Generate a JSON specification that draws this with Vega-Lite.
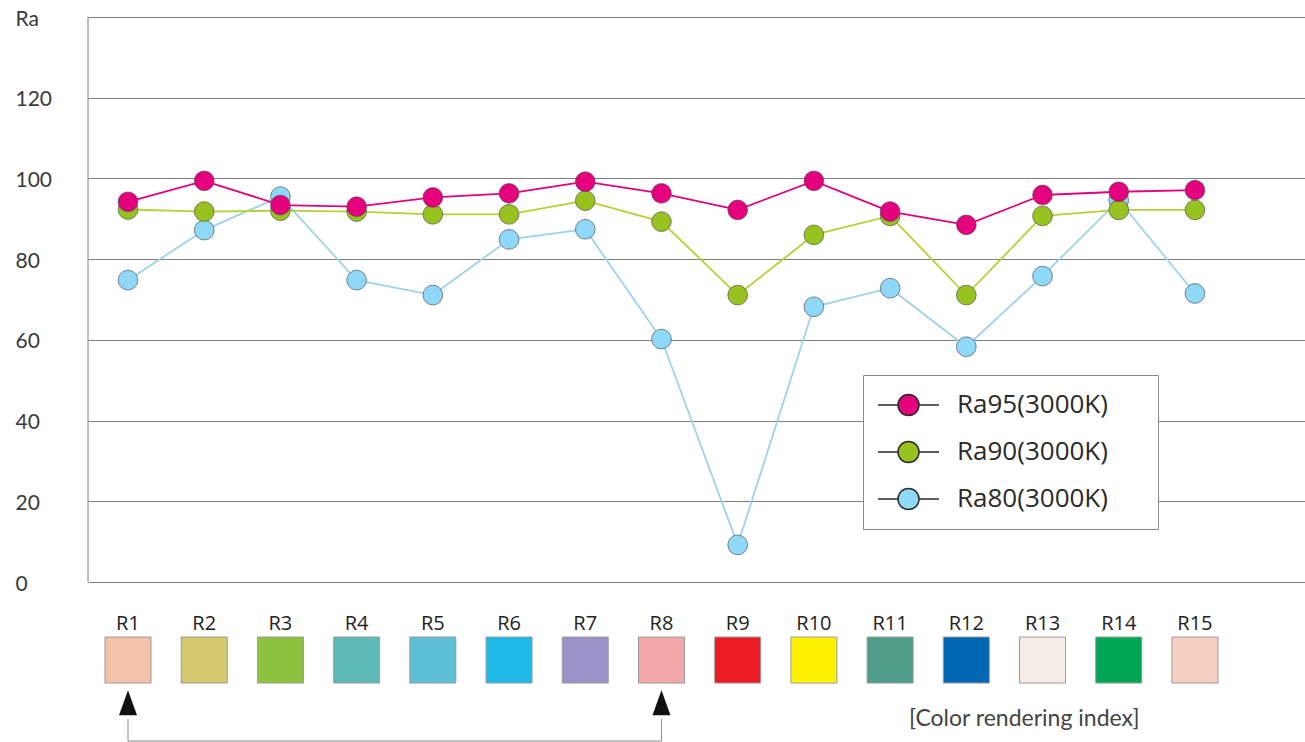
{
  "$schema": "https://vega.github.io/schema/vega-lite/v6.json",
  "width": 1217,
  "height": 725,
  "autosize": {"type": "none"},
  "padding": {"left": 88, "top": 17, "right": 0, "bottom": 0},
  "background": "white",
  "config": {"view": {"stroke": null}, "font": "Lato"},
  "datasets": {
    "ra": [
      {"i": 1, "series": "Ra80(3000K)", "value": 74.8},
      {"i": 2, "series": "Ra80(3000K)", "value": 87.2},
      {"i": 3, "series": "Ra80(3000K)", "value": 95.5},
      {"i": 4, "series": "Ra80(3000K)", "value": 74.8},
      {"i": 5, "series": "Ra80(3000K)", "value": 71.1},
      {"i": 6, "series": "Ra80(3000K)", "value": 84.9},
      {"i": 7, "series": "Ra80(3000K)", "value": 87.4},
      {"i": 8, "series": "Ra80(3000K)", "value": 60.2},
      {"i": 9, "series": "Ra80(3000K)", "value": 9.2},
      {"i": 10, "series": "Ra80(3000K)", "value": 68.2},
      {"i": 11, "series": "Ra80(3000K)", "value": 72.8},
      {"i": 12, "series": "Ra80(3000K)", "value": 58.3},
      {"i": 13, "series": "Ra80(3000K)", "value": 75.8},
      {"i": 14, "series": "Ra80(3000K)", "value": 94.6},
      {"i": 15, "series": "Ra80(3000K)", "value": 71.5},
      {"i": 1, "series": "Ra90(3000K)", "value": 92.3},
      {"i": 2, "series": "Ra90(3000K)", "value": 91.8},
      {"i": 3, "series": "Ra90(3000K)", "value": 92.0},
      {"i": 4, "series": "Ra90(3000K)", "value": 91.8},
      {"i": 5, "series": "Ra90(3000K)", "value": 91.1},
      {"i": 6, "series": "Ra90(3000K)", "value": 91.1},
      {"i": 7, "series": "Ra90(3000K)", "value": 94.5},
      {"i": 8, "series": "Ra90(3000K)", "value": 89.3},
      {"i": 9, "series": "Ra90(3000K)", "value": 71.1},
      {"i": 10, "series": "Ra90(3000K)", "value": 86.0},
      {"i": 11, "series": "Ra90(3000K)", "value": 90.7},
      {"i": 12, "series": "Ra90(3000K)", "value": 71.1},
      {"i": 13, "series": "Ra90(3000K)", "value": 90.7},
      {"i": 14, "series": "Ra90(3000K)", "value": 92.2},
      {"i": 15, "series": "Ra90(3000K)", "value": 92.2},
      {"i": 1, "series": "Ra95(3000K)", "value": 94.2},
      {"i": 2, "series": "Ra95(3000K)", "value": 99.4},
      {"i": 3, "series": "Ra95(3000K)", "value": 93.4},
      {"i": 4, "series": "Ra95(3000K)", "value": 93.0},
      {"i": 5, "series": "Ra95(3000K)", "value": 95.3},
      {"i": 6, "series": "Ra95(3000K)", "value": 96.3},
      {"i": 7, "series": "Ra95(3000K)", "value": 99.2},
      {"i": 8, "series": "Ra95(3000K)", "value": 96.3},
      {"i": 9, "series": "Ra95(3000K)", "value": 92.2},
      {"i": 10, "series": "Ra95(3000K)", "value": 99.4},
      {"i": 11, "series": "Ra95(3000K)", "value": 91.8},
      {"i": 12, "series": "Ra95(3000K)", "value": 88.5},
      {"i": 13, "series": "Ra95(3000K)", "value": 95.9},
      {"i": 14, "series": "Ra95(3000K)", "value": 96.7},
      {"i": 15, "series": "Ra95(3000K)", "value": 97.1}
    ],
    "tcs": [
      {"i": 1, "name": "R1"}, {"i": 2, "name": "R2"}, {"i": 3, "name": "R3"},
      {"i": 4, "name": "R4"}, {"i": 5, "name": "R5"}, {"i": 6, "name": "R6"},
      {"i": 7, "name": "R7"}, {"i": 8, "name": "R8"}, {"i": 9, "name": "R9"},
      {"i": 10, "name": "R10"}, {"i": 11, "name": "R11"}, {"i": 12, "name": "R12"},
      {"i": 13, "name": "R13"}, {"i": 14, "name": "R14"}, {"i": 15, "name": "R15"}
    ],
    "ref": [{"i": 1}, {"i": 8}],
    "note": [{"text": "[Color rendering index]"}],
    "one": [{}]
  },
  "layer": [
    {
      "data": {"name": "ra"},
      "mark": {"type": "line", "strokeWidth": 1.8},
      "encoding": {
        "x": {"field": "i", "type": "quantitative", "scale": {"domain": [0.47514, 16.444], "nice": false, "zero": false}, "axis": null},
        "y": {
          "field": "value", "type": "quantitative",
          "scale": {"domain": [-39.64, 140], "nice": false, "zero": false},
          "axis": {
            "values": [0, 20, 40, 60, 80, 100, 120, 140],
            "grid": true, "gridColor": "#7f7f7f", "gridWidth": 1, "gridOpacity": 1,
            "domain": false, "ticks": false, "tickSize": 0,
            "labelAlign": "left", "labelBaseline": "middle", "labelPadding": 73, "labelOffset": 2,
            "labelFont": "Lato", "labelFontSize": 21, "labelColor": "#3a3a3a",
            "labelExpr": "datum.value == 140 ? 'Ra' : datum.label",
            "title": null
          }
        },
        "stroke": {
          "field": "series", "type": "nominal",
          "scale": {"domain": ["Ra80(3000K)", "Ra90(3000K)", "Ra95(3000K)"], "range": ["#9DD3EA", "#B3D235", "#E4007F"]},
          "legend": null
        },
        "detail": {"field": "series"}
      }
    },
    {
      "data": {"name": "one"},
      "mark": {"type": "rule", "stroke": "#7a7a7a", "strokeWidth": 1},
      "encoding": {
        "x": {"datum": 0.47514, "type": "quantitative"},
        "y": {"datum": 0, "type": "quantitative"},
        "y2": {"datum": 140}
      }
    },
    {
      "data": {"name": "ra"},
      "mark": {"type": "point", "filled": true, "size": 390, "opacity": 1, "stroke": "#4a4a4a", "strokeWidth": 1, "strokeOpacity": 0.65},
      "encoding": {
        "x": {"field": "i", "type": "quantitative"},
        "y": {"field": "value", "type": "quantitative"},
        "fill": {
          "field": "series", "type": "nominal",
          "scale": {"domain": ["Ra95(3000K)", "Ra90(3000K)", "Ra80(3000K)"], "range": ["#E5007E", "#97C21F", "#8FD8F8"]},
          "legend": {
            "title": "\u00a0", "titleOrient": "right", "titlePadding": 42, "titleFontSize": 26, "titleFont": "Open Sans",
            "orient": "none", "legendX": 775, "legendY": 358,
            "padding": 8, "strokeColor": "#8a8a8a", "fillColor": "white",
            "symbolType": "M-0.836,0H-0.288M0.288,0H0.836M-0.288,0A0.288,0.288 0 1,1 0.288,0A0.288,0.288 0 1,1 -0.288,0Z",
            "symbolSize": 5329, "symbolStrokeColor": "#2a2a2a", "symbolStrokeWidth": 1.5, "symbolOpacity": 1,
            "clipHeight": 44, "rowPadding": 3, "labelOffset": 11,
            "labelFont": "Open Sans", "labelFontSize": 26, "labelColor": "#2a2a2a", "labelLimit": 400
          }
        }
      }
    },
    {
      "data": {"name": "tcs"},
      "mark": {"type": "square", "size": 2116, "opacity": 1, "stroke": "#9a9a9a", "strokeWidth": 1},
      "encoding": {
        "x": {"field": "i", "type": "quantitative"},
        "y": {"datum": -19.33, "type": "quantitative"},
        "color": {
          "field": "name", "type": "nominal",
          "scale": {
            "domain": ["R1", "R2", "R3", "R4", "R5", "R6", "R7", "R8", "R9", "R10", "R11", "R12", "R13", "R14", "R15"],
            "range": ["#F3C2A9", "#D4C96C", "#8DC23F", "#5DBAB7", "#5EC0D7", "#1FB9E8", "#9A93C7", "#F4A7A8", "#EC1C24", "#FFF200", "#4F9E8A", "#0067B3", "#F6ECE7", "#00A651", "#F3D0C0"]
          },
          "legend": null
        }
      }
    },
    {
      "data": {"name": "tcs"},
      "mark": {"type": "text", "font": "Open Sans", "fontSize": 20, "color": "#222222", "baseline": "middle", "align": "center"},
      "encoding": {
        "x": {"field": "i", "type": "quantitative"},
        "y": {"datum": -10.3, "type": "quantitative"},
        "text": {"field": "name"}
      }
    },
    {
      "data": {"name": "ref"},
      "mark": {"type": "point", "shape": "M0,-1L0.72,1L-0.72,1Z", "size": 625, "filled": true, "opacity": 1, "color": "#111111"},
      "encoding": {
        "x": {"field": "i", "type": "quantitative"},
        "y": {"datum": -29.9, "type": "quantitative"}
      }
    },
    {
      "data": {"name": "ref"},
      "mark": {"type": "rule", "stroke": "#8c8c8c", "strokeWidth": 1},
      "encoding": {
        "x": {"field": "i", "type": "quantitative"},
        "y": {"datum": -33.9, "type": "quantitative"},
        "y2": {"datum": -39.4}
      }
    },
    {
      "data": {"name": "ref"},
      "mark": {"type": "rule", "stroke": "#8c8c8c", "strokeWidth": 1},
      "encoding": {
        "x": {"aggregate": "min", "field": "i", "type": "quantitative"},
        "x2": {"aggregate": "max", "field": "i"},
        "y": {"datum": -39.4, "type": "quantitative"}
      }
    },
    {
      "data": {"name": "note"},
      "mark": {"type": "text", "font": "Lato", "fontSize": 23, "color": "#444444", "baseline": "middle", "align": "center"},
      "encoding": {
        "x": {"datum": 12.76, "type": "quantitative"},
        "y": {"datum": -33.9, "type": "quantitative"},
        "text": {"field": "text"}
      }
    }
  ]
}
